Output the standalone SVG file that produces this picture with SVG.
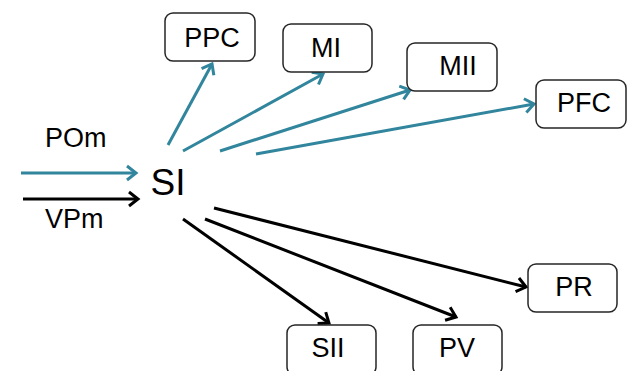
<svg xmlns="http://www.w3.org/2000/svg" width="628" height="371" viewBox="0 0 628 371">
<style>
.box{fill:#fff;stroke:#262626;stroke-width:1.5}
.lbl{font-family:"Liberation Sans",Arial,sans-serif;font-size:27px;fill:#000;text-anchor:middle}
.teal{stroke:#31859c;stroke-width:3;fill:none}
.blk{stroke:#000;stroke-width:3;fill:none}
</style>
<defs>
<marker id="aT" markerUnits="userSpaceOnUse" markerWidth="20" markerHeight="20" refX="0" refY="0" orient="auto" overflow="visible">
<path d="M-9,-7 L0,0 L-9,7" fill="none" stroke="#31859c" stroke-width="3"/>
</marker>
<marker id="aB" markerUnits="userSpaceOnUse" markerWidth="20" markerHeight="20" refX="0" refY="0" orient="auto" overflow="visible">
<path d="M-9,-7 L0,0 L-9,7" fill="none" stroke="#000" stroke-width="3"/>
</marker>
</defs>
<rect width="628" height="371" fill="#fff"/>
<g id="connectors">
<line class="teal" x1="21" y1="173" x2="136" y2="173" marker-end="url(#aT)"/>
<line class="blk" x1="23" y1="199" x2="138" y2="199" marker-end="url(#aB)"/>
<line class="teal" x1="168" y1="145" x2="212" y2="64" marker-end="url(#aT)"/>
<line class="teal" x1="183" y1="151" x2="323" y2="74" marker-end="url(#aT)"/>
<line class="teal" x1="220" y1="151" x2="410" y2="90" marker-end="url(#aT)"/>
<line class="teal" x1="256" y1="154" x2="534" y2="104" marker-end="url(#aT)"/>
<line class="blk" x1="214" y1="208" x2="526" y2="287" marker-end="url(#aB)"/>
<line class="blk" x1="205" y1="219" x2="456" y2="317" marker-end="url(#aB)"/>
<line class="blk" x1="183" y1="219" x2="329" y2="323" marker-end="url(#aB)"/>
</g>
<g id="POm"><text class="lbl" x="45" y="147" style="text-anchor:start">POm</text></g>
<g id="VPm"><text class="lbl" x="45" y="228" style="text-anchor:start">VPm</text></g>
<g id="SI"><text class="lbl" x="168" y="195" style="font-size:37px">SI</text></g>
<g id="PPC"><rect class="box" x="165" y="13" width="90" height="48" rx="8"/><text class="lbl" x="212" y="47">PPC</text></g>
<g id="MI"><rect class="box" x="283" y="24" width="89" height="48" rx="8"/><text class="lbl" x="326" y="57">MI</text></g>
<g id="MII"><rect class="box" x="407" y="43" width="90" height="48" rx="8"/><text class="lbl" x="458" y="75">MII</text></g>
<g id="PFC"><rect class="box" x="536" y="80" width="90" height="48" rx="8"/><text class="lbl" x="584" y="112">PFC</text></g>
<g id="PR"><rect class="box" x="528" y="264" width="89" height="48" rx="8"/><text class="lbl" x="574" y="296">PR</text></g>
<g id="SII"><rect class="box" x="287" y="325" width="89" height="50" rx="8"/><text class="lbl" x="328" y="357">SII</text></g>
<g id="PV"><rect class="box" x="413" y="325" width="89" height="50" rx="8"/><text class="lbl" x="457" y="357">PV</text></g>
</svg>
